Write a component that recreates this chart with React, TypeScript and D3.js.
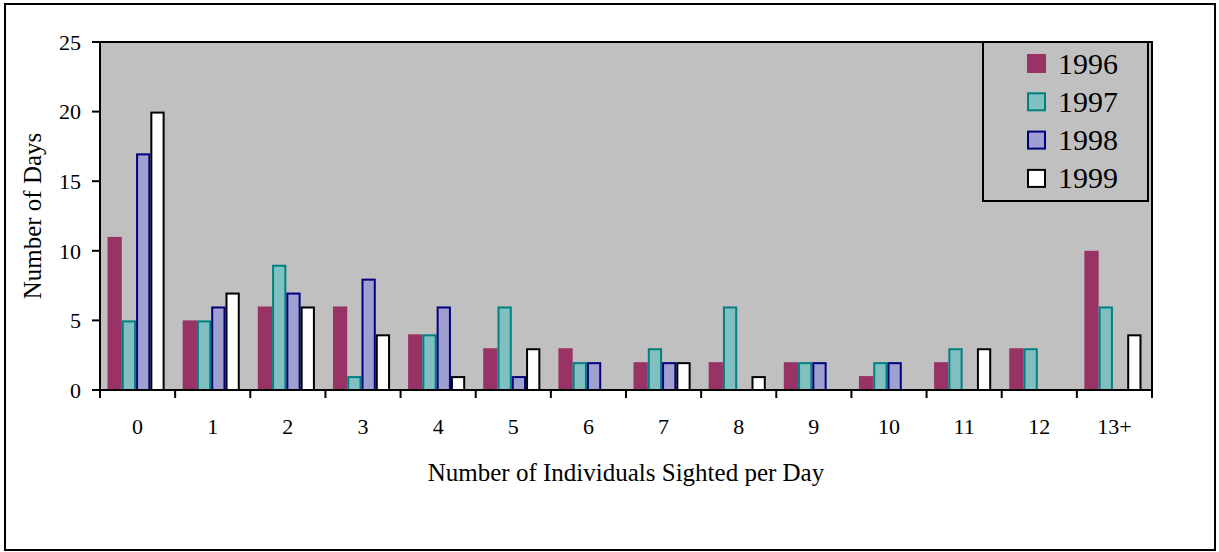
import React from "react";
import * as d3 from "d3";

const categories = ["0", "1", "2", "3", "4", "5", "6", "7", "8", "9", "10", "11", "12", "13+"];
const seriesNames = ["1996", "1997", "1998", "1999"];
const values1996 = [11, 5, 6, 6, 4, 3, 3, 2, 2, 2, 1, 2, 3, 10];
const values1997 = [5, 5, 9, 1, 4, 6, 2, 3, 6, 2, 2, 3, 3, 6];
const values1998 = [17, 6, 7, 8, 6, 1, 2, 2, 0, 2, 2, 0, 0, 0];
const values1999 = [20, 7, 6, 4, 1, 3, 0, 2, 1, 0, 0, 3, 0, 4];
const yTicks = [0, 5, 10, 15, 20, 25];

const W = 1219;
const H = 552;
const plot = { left: 100, right: 1152, top: 42, bottom: 390 };
const FONT = "'Times New Roman', 'Liberation Serif', serif";

const styles = [
  { fill: "#993366", stroke: "#993366", sw: 0 },
  { fill: "#80C0C0", stroke: "#008080", sw: 2 },
  { fill: "#A0A0D0", stroke: "#000080", sw: 2 },
  { fill: "#FFFFFF", stroke: "#000000", sw: 2 },
];

export default function App() {
  const allSeries = [values1996, values1997, values1998, values1999];
  const x = d3.scaleBand<string>().domain(categories).range([plot.left, plot.right]).paddingInner(0).paddingOuter(0);
  const inner = d3.scaleBand<string>().domain(seriesNames).range([0, x.bandwidth() * 0.76]);
  const groupOffset = (x.bandwidth() - x.bandwidth() * 0.76) / 2 - 1.5;
  const y = d3.scaleLinear().domain([0, 25]).range([plot.bottom, plot.top]);
  const tickXs = d3.range(categories.length + 1).map((i) => plot.left + i * x.bandwidth());

  return (
    <div style={{ position: "fixed", left: 0, top: 0 }}>
      <svg width={W} height={H} style={{ display: "block", background: "#fff" }} fontFamily={FONT}>
        <rect x={5} y={4} width={1210} height={546} fill="#fff" stroke="#000" strokeWidth={2} />
        <rect x={plot.left} y={plot.top} width={plot.right - plot.left} height={plot.bottom - plot.top} fill="#C0C0C0" stroke="#000" strokeWidth={2} />
        {allSeries.map((vals, si) =>
          vals.map((v, ci) =>
            v > 0 ? (
              <rect
                key={`${si}-${ci}`}
                x={(x(categories[ci]) as number) + groupOffset + (inner(seriesNames[si]) as number) + styles[si].sw / 2}
                y={y(v) + styles[si].sw / 2}
                width={inner.bandwidth() - styles[si].sw}
                height={y(0) - y(v) - styles[si].sw / 2}
                fill={styles[si].fill}
                stroke={styles[si].sw ? styles[si].stroke : "none"}
                strokeWidth={styles[si].sw}
              />
            ) : null
          )
        )}
        {/* axes */}
        <line x1={plot.left} x2={plot.left} y1={plot.top} y2={plot.bottom} stroke="#000" strokeWidth={2} />
        <line x1={plot.left} x2={plot.right} y1={plot.bottom} y2={plot.bottom} stroke="#000" strokeWidth={2} />
        {yTicks.map((t) => (
          <g key={t}>
            <line x1={92} x2={plot.left} y1={y(t)} y2={y(t)} stroke="#000" strokeWidth={2} />
            <text x={81} y={y(t)} dy="0.35em" textAnchor="end" fontSize={22} fill="#000">
              {t}
            </text>
          </g>
        ))}
        {tickXs.map((tx, i) => (
          <line key={i} x1={tx} x2={tx} y1={plot.bottom} y2={398} stroke="#000" strokeWidth={2} />
        ))}
        {categories.map((c) => (
          <text key={c} x={(x(c) as number) + x.bandwidth() / 2} y={434} textAnchor="middle" fontSize={22} fill="#000">
            {c}
          </text>
        ))}
        <text x={(plot.left + plot.right) / 2} y={481} textAnchor="middle" fontSize={25} fill="#000">
          Number of Individuals Sighted per Day
        </text>
        <text transform={`translate(41, ${(plot.top + plot.bottom) / 2}) rotate(-90)`} textAnchor="middle" fontSize={25} fill="#000">
          Number of Days
        </text>
        {/* legend */}
        <rect x={983} y={42} width={165} height={159} fill="#C0C0C0" stroke="#000" strokeWidth={2} />
        {seriesNames.map((s, i) => (
          <g key={s}>
            <rect
              x={1027 + styles[i].sw / 2}
              y={54 + i * 38.3 + styles[i].sw / 2}
              width={19 - styles[i].sw}
              height={19 - styles[i].sw}
              fill={styles[i].fill}
              stroke={styles[i].sw ? styles[i].stroke : "none"}
              strokeWidth={styles[i].sw}
            />
            <text x={1058} y={74 + i * 38} fontSize={30} fill="#000">
              {s}
            </text>
          </g>
        ))}
      </svg>
    </div>
  );
}
